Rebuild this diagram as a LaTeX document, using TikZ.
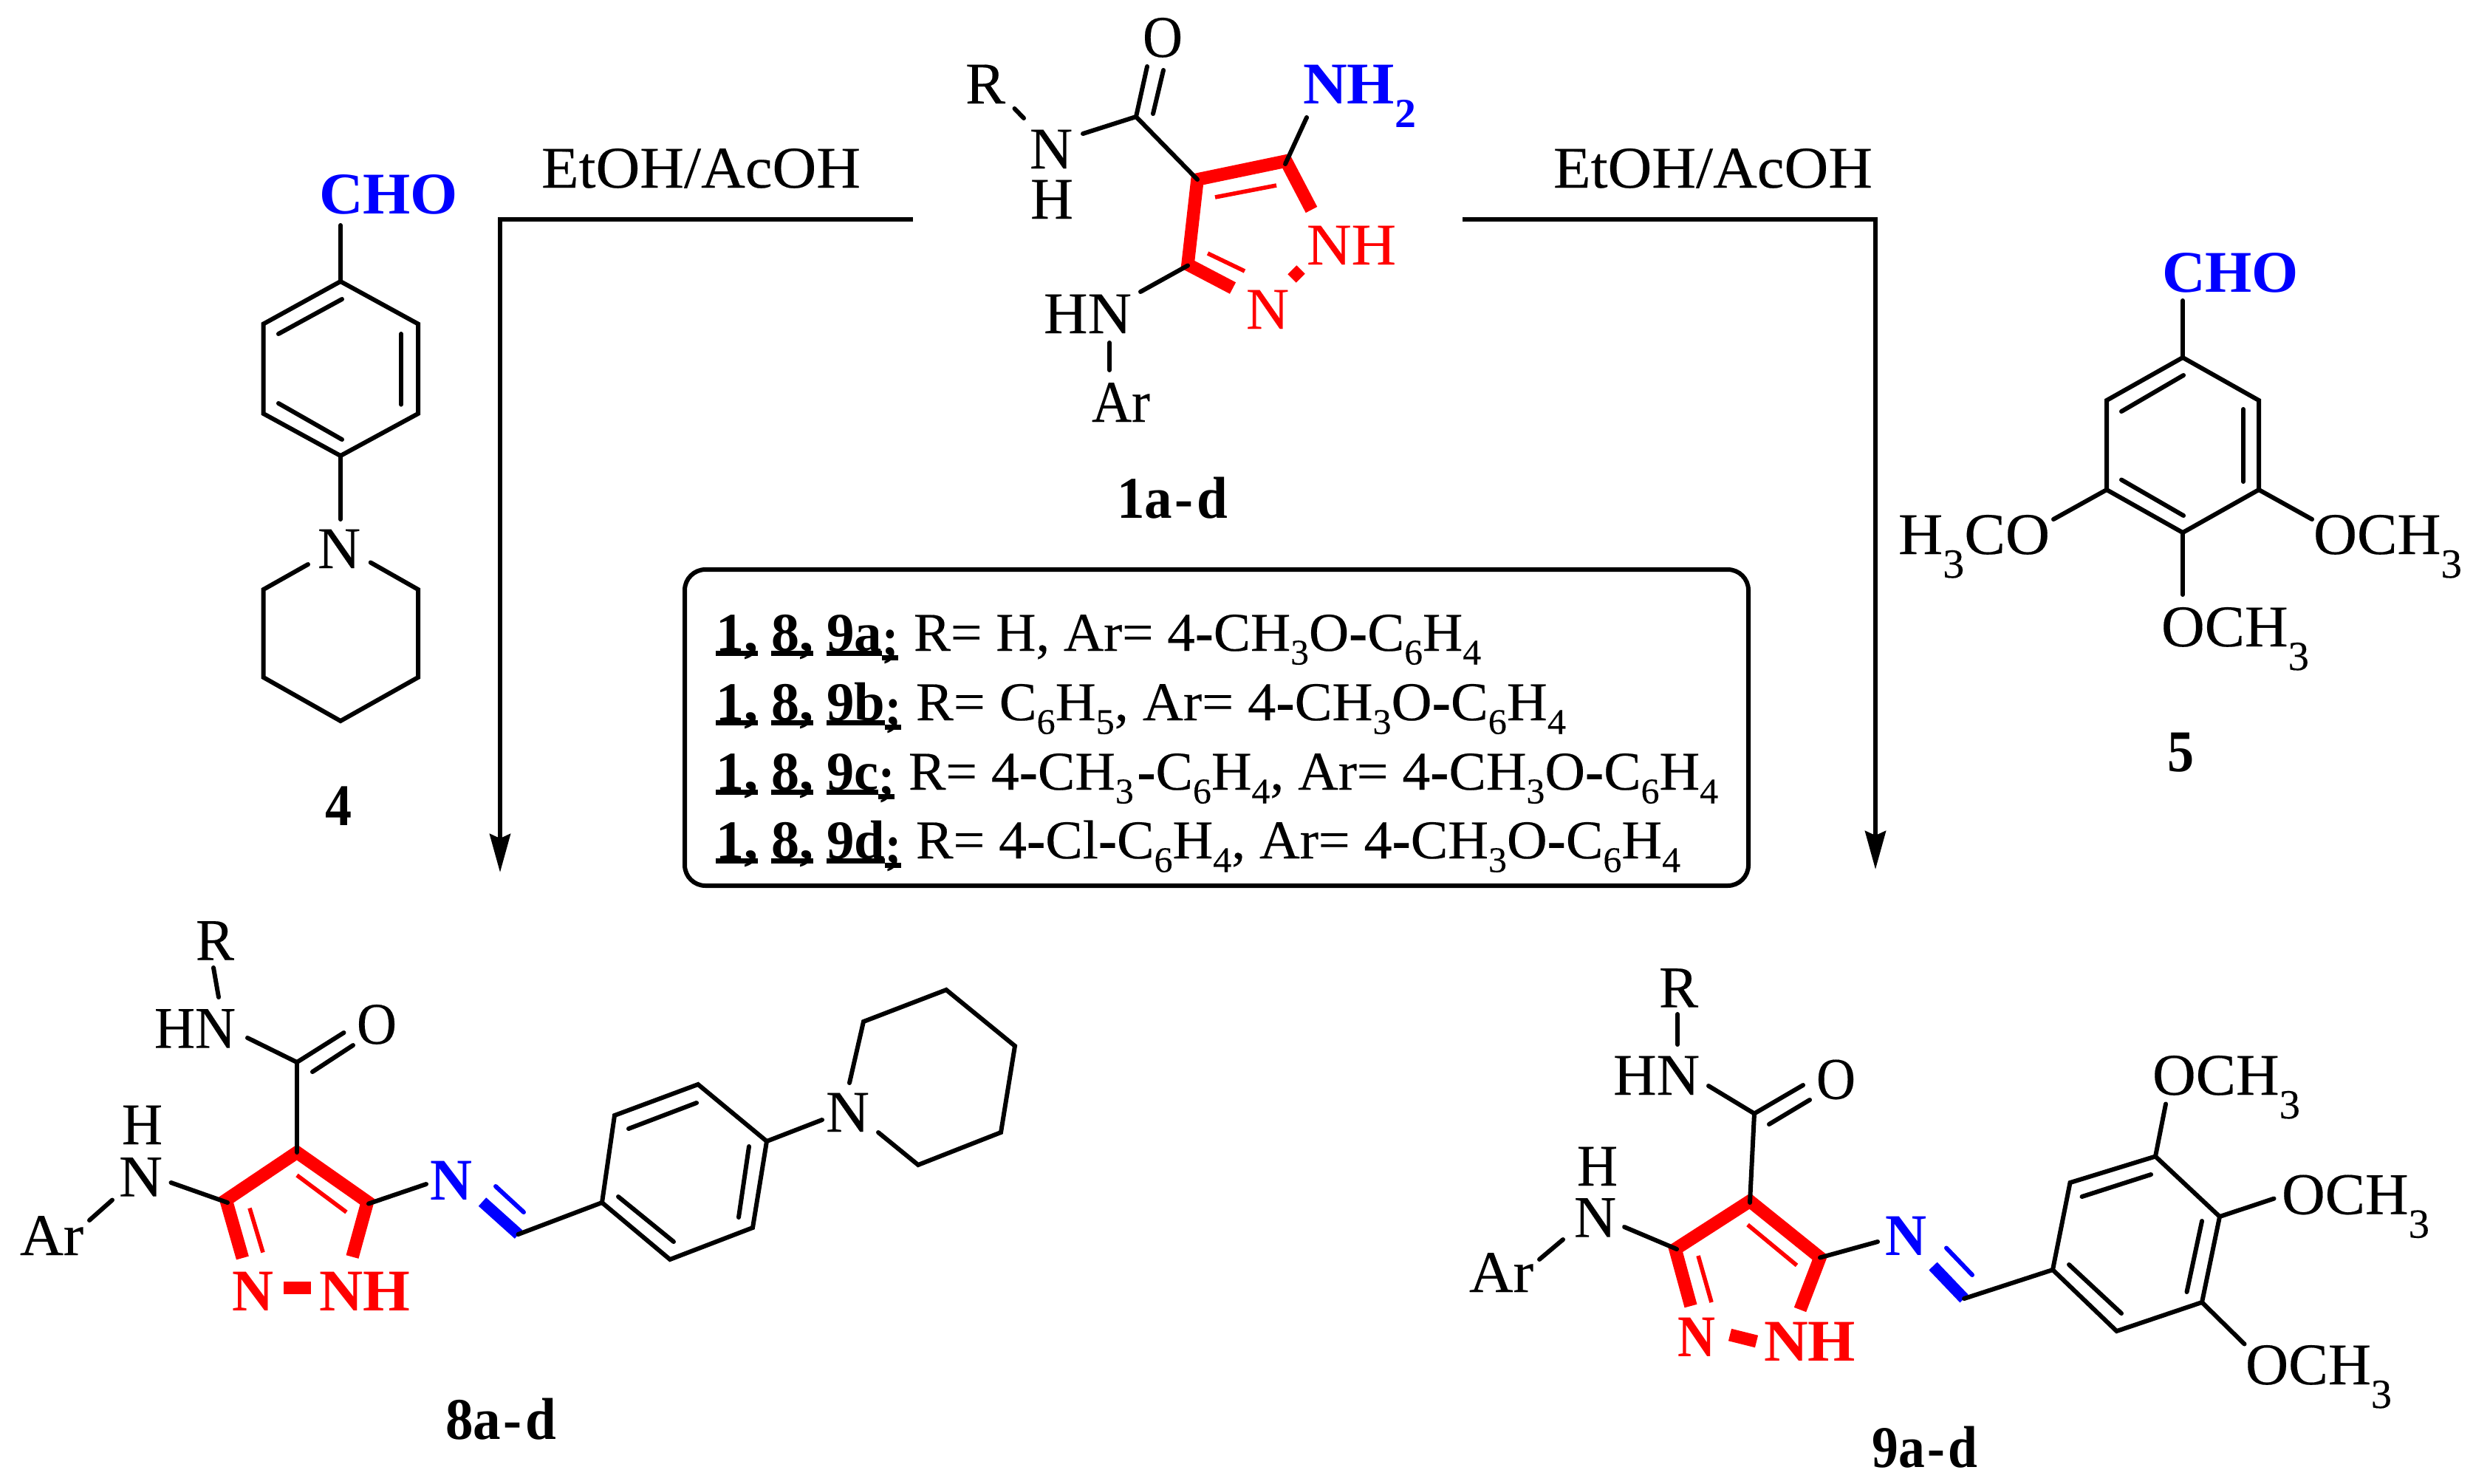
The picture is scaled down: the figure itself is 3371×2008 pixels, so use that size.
\documentclass[tikz,border=0pt]{standalone}
\usepackage{fontspec}
\usepackage{graphicx}
\setmainfont{Liberation Serif}
\newfontfamily\regf[FakeBold=0.25]{Liberation Serif}
\usetikzlibrary{arrows.meta}
\definecolor{pred}{RGB}{255,0,0}
\definecolor{pblue}{RGB}{0,0,255}
\tikzset{
  lab/.style={inner sep=0pt,outer sep=0pt,anchor=base west,font=\fontsize{40}{48}\regf},
  boxt/.style={lab,font=\fontsize{37}{44}\regf},
  bb/.style={lab,font=\fontsize{40}{48}\selectfont\bfseries},
  bbt/.style={lab,font=\fontsize{37}{44}\selectfont\bfseries},
  bond/.style={line width=3pt,line cap=round,line join=miter,black},
  redthin/.style={line width=2.8pt,pred},
  redthick/.style={line width=8.75pt,pred,line join=miter},
  bluethin/.style={line width=3pt,pblue,line cap=round},
  bluethick/.style={line width=7.75pt,pblue},
  rxn/.style={line width=3pt,black,line join=miter,-{Stealth[length=26pt,width=14pt,inset=3pt]}},
  ulb/.style={line width=3.3pt,black},
  panel/.style={line width=3pt,black,rounded corners=14pt}
}
\newcommand\lbl[5]{\node[#1] (#2) at (#3) {\resizebox{\dimexpr#4pt/2\relax}{\height}{#5}};}
\newcommand\sA[1]{\raisebox{-.4em}{\scalebox{.7}{#1}}}
\newcommand\sB[1]{\raisebox{-.25em}{\scalebox{.66}{#1}}}
\newcommand\hy{{\bfseries-}}
\newcommand\hyb{\kern.05em-\kern.06em}
\newcommand\ulab[1]{\draw[ulb] ([yshift=-1.75pt]#1.base west) -- ([yshift=-1.75pt]#1.base east);}
\begin{document}
\begin{tikzpicture}[x=0.5pt,y=-0.5pt]
\useasboundingbox (0,0) rectangle (3371,2008);

% ---- reaction arrows
\coordinate (la) at (1236,297);
\coordinate (lb) at (677,297);
\coordinate (lc) at (677,1181);
\coordinate (ra) at (1980,297);
\coordinate (rb) at (2539,297);
\coordinate (rc) at (2539,1177);
\draw[rxn] (la) -- (lb) -- (lc);
\draw[rxn] (ra) -- (rb) -- (rc);
\lbl{lab}{etL}{733,254}{432}{EtOH/AcOH}
\lbl{lab}{etR}{2103,254}{432}{EtOH/AcOH}

% ---- compound 1
\draw[redthick] (1775.5,284) -- (1741,218) -- (1621,243) -- (1608,358) -- (1669,390);
\draw[redthin] (1645,267) -- (1728,251);
\draw[redthin] (1635,343) -- (1685,367);
\draw[line width=8pt,pred] (1749,377) -- (1761,365);
\draw[bond] (1538,158) -- (1553,90);
\draw[bond] (1561,154) -- (1575,95);
\draw[bond] (1466,181) -- (1538,158) -- (1621,243);
\draw[bond] (1373.5,147) -- (1386,160);
\draw[bond] (1740,222) -- (1769,159);
\draw[bond] (1608,359.5) -- (1544,395);
\draw[bond] (1502,464) -- (1502,501);
\lbl{lab}{aO}{1547,77}{54}{O}
\lbl{lab}{aR}{1307,140}{54}{R}
\lbl{lab}{aN}{1394,228}{58}{N}
\lbl{lab}{aH}{1395,296}{58}{H}
\lbl{bb}{aNH}{1764,140}{153}{\textcolor{pblue}{NH\sA{2}}}
\lbl{lab}{aNHr}{1769,358}{121}{\textcolor{pred}{NH}}
\lbl{lab}{aNr}{1687,445}{58}{\textcolor{pred}{N}}
\lbl{lab}{aHN}{1413,451}{119}{HN}
\lbl{lab}{aAr}{1478,571}{79}{Ar}
\lbl{bb}{aName}{1512,701}{150}{1a\hyb d}

% ---- compound 4
\draw[bond] (461,305) -- (461,381);
\draw[bond,line cap=butt] (461,381) -- (566,438.5) -- (566,560) -- (461,617) -- (356.7,560) -- (356.7,438.5) -- cycle;
\draw[bond] (377,452) -- (463,405);
\draw[bond] (543,452) -- (543,547.6);
\draw[bond] (377,546) -- (463,595);
\draw[bond] (461,617) -- (461,703);
\draw[bond] (417,764) -- (356.7,798) -- (356.7,917) -- (461,976) -- (566,917) -- (566,798) -- (501.7,761.5);
\lbl{bb}{dCHO}{432,289}{188}{\textcolor{pblue}{CHO}}
\lbl{lab}{dN}{430,769}{58}{N}
\lbl{bb}{dName}{440,1117}{36}{4}

% ---- compound 5
\draw[bond] (2955,407) -- (2955,484);
\draw[bond,line cap=butt] (2955,484) -- (3058,542) -- (3058,663) -- (2955,721) -- (2852,663) -- (2852,542) -- cycle;
\draw[bond] (2872,557) -- (2956,508);
\draw[bond] (3037,554) -- (3037,652);
\draw[bond] (2872,649.5) -- (2956,698);
\draw[bond] (2852,663) -- (2780,703);
\draw[bond] (3058,663) -- (3130,703);
\draw[bond] (2955,721) -- (2955,805);
\lbl{bb}{eCHO}{2927,395}{185}{\textcolor{pblue}{CHO}}
\lbl{lab}{eL}{2570,750}{205}{H\sA{3}CO}
\lbl{lab}{eR}{3132,750}{201}{OCH\sA{3}}
\lbl{lab}{eB}{2926,875}{200}{OCH\sA{3}}
\lbl{bb}{eName}{2934,1044}{36}{5}

% ---- substituent panel
\draw[panel] (927,771) rectangle (2367,1199);
\lbl{bbt}{p1a}{969,881}{57}{1,}
\lbl{bbt}{p1b}{1044,881}{57}{8,}
\lbl{bbt}{p1c}{1119,881}{75}{9a}
\lbl{bbt}{p1d}{1194,887}{22}{;}
\lbl{boxt}{p1t}{1237,881}{768}{R= H, Ar= 4\hy CH\sB{3}O\hy C\sB{6}H\sB{4}}
\lbl{bbt}{p2a}{969,975}{57}{1,}
\lbl{bbt}{p2b}{1044,975}{57}{8,}
\lbl{bbt}{p2c}{1119,975}{79}{9b}
\lbl{bbt}{p2d}{1198,981}{22}{;}
\lbl{boxt}{p2t}{1240,975}{880}{R= C\sB{6}H\sB{5}, Ar= 4\hy CH\sB{3}O\hy C\sB{6}H\sB{4}}
\lbl{bbt}{p3a}{969,1069}{57}{1,}
\lbl{bbt}{p3b}{1044,1069}{57}{8,}
\lbl{bbt}{p3c}{1119,1069}{70}{9c}
\lbl{bbt}{p3d}{1189,1075}{22}{;}
\lbl{boxt}{p3t}{1230,1069}{1096}{R= 4\hy CH\sB{3}\kern.06em\hy C\sB{6}H\sB{4}, Ar= 4\hy CH\sB{3}O\hy C\sB{6}H\sB{4}}
\lbl{bbt}{p4a}{969,1162}{57}{1,}
\lbl{bbt}{p4b}{1044,1162}{57}{8,}
\lbl{bbt}{p4c}{1119,1162}{79}{9d}
\lbl{bbt}{p4d}{1198,1168}{22}{;}
\lbl{boxt}{p4t}{1240,1162}{1035}{R= 4\hy Cl\hy C\sB{6}H\sB{4}, Ar= 4\hy CH\sB{3}O\hy C\sB{6}H\sB{4}}
\foreach \n in {p1a,p1b,p1c,p1d,p2a,p2b,p2c,p2d,p3a,p3b,p3c,p3d,p4a,p4b,p4c,p4d}{\ulab{\n}}

% ---- compound 8
\draw[redthick] (328.4,1703) -- (306,1624.5) -- (402,1560) -- (497.5,1627) -- (477,1701.5);
\draw[redthin] (402,1591) -- (469,1641);
\draw[redthin] (338,1635.5) -- (356,1695.5);
\draw[line width=8.5pt,pred] (384,1743.5) -- (421,1743.5);
\draw[bluethick] (653,1627) -- (702,1671);
\draw[bluethin] (671,1606) -- (709,1641);
\draw[bond] (289,1310) -- (296,1350);
\draw[bond] (335,1405) -- (402,1438);
\draw[bond] (402,1438) -- (465.5,1398);
\draw[bond] (423,1451) -- (478,1415);
\draw[bond] (402,1438) -- (402,1560);
\draw[bond] (152,1624.5) -- (121,1652);
\draw[bond] (231.5,1601) -- (308,1628);
\draw[bond] (499,1629.5) -- (577,1603);
\draw[bond] (701.5,1671) -- (815,1628);
\draw[bond,line cap=butt] (815,1628) -- (832,1510) -- (945,1468) -- (1038,1545) -- (1019,1662) -- (907,1705) -- cycle;
\draw[bond] (851,1528) -- (943,1493);
\draw[bond] (837,1620) -- (912,1681);
\draw[bond] (1014,1552) -- (1000,1648);
\draw[bond] (1038,1545) -- (1113,1516);
\draw[bond] (1150,1466) -- (1169,1383) -- (1281,1340) -- (1374,1416) -- (1355,1533) -- (1243,1577) -- (1189,1533);
\lbl{lab}{hR}{265,1299.5}{52}{R}
\lbl{lab}{hHN}{209,1418.6}{110}{HN}
\lbl{lab}{hO}{483,1413}{54}{O}
\lbl{lab}{hH}{165,1549}{55}{H}
\lbl{lab}{hN}{161,1619.6}{59}{N}
\lbl{lab}{hAr}{27,1699}{86}{Ar}
\lbl{bb}{hNr}{314,1774}{56}{\textcolor{pred}{N}}
\lbl{bb}{hNHr}{432,1774}{123}{\textcolor{pred}{NH}}
\lbl{bb}{hNb}{582,1624.5}{57}{\textcolor{pblue}{N}}
\lbl{lab}{hNp}{1118,1532}{59}{N}
\lbl{bb}{hName}{603,1948}{150}{8a\hyb d}

% ---- compound 9
\draw[redthick] (2289,1768) -- (2268,1691) -- (2369,1626) -- (2464,1702.5) -- (2437,1773);
\draw[redthin] (2366,1658) -- (2432.5,1713);
\draw[redthin] (2299,1700) -- (2317,1763);
\draw[line width=8.5pt,pred] (2342,1807) -- (2378,1816);
\draw[bluethick] (2617,1714) -- (2659,1758);
\draw[bluethin] (2635,1689.5) -- (2670,1726);
\draw[bond] (2271,1373) -- (2271,1414);
\draw[bond] (2313,1470) -- (2375,1507.5);
\draw[bond] (2375,1507.5) -- (2441,1469);
\draw[bond] (2395,1522) -- (2450,1489);
\draw[bond] (2375,1507.5) -- (2369,1628);
\draw[bond] (2116,1678) -- (2084,1705);
\draw[bond] (2199,1661) -- (2270,1691);
\draw[bond] (2464,1702.5) -- (2542,1681);
\draw[bond] (2659,1758) -- (2779,1719);
\draw[bond,line cap=butt] (2779,1719) -- (2802.5,1601) -- (2918,1565.5) -- (3005,1647) -- (2981,1763) -- (2865.5,1802) -- cycle;
\draw[bond] (2818.5,1620) -- (2912,1590);
\draw[bond] (2981,1653) -- (2960.5,1749);
\draw[bond] (2801,1712) -- (2872,1778);
\draw[bond] (2918,1565.5) -- (2932,1494.5);
\draw[bond] (3005,1647) -- (3078.5,1622.6);
\draw[bond] (2981,1763) -- (3038.5,1819.5);
\lbl{lab}{iR}{2246,1363.6}{53}{R}
\lbl{lab}{iHN}{2184,1482}{117}{HN}
\lbl{lab}{iO}{2459,1487.5}{53}{O}
\lbl{lab}{iH}{2135,1605}{55}{H}
\lbl{lab}{iN}{2131,1674.6}{57}{N}
\lbl{lab}{iAr}{1989,1749}{87}{Ar}
\lbl{bb}{iNr}{2271,1836}{51}{\textcolor{pred}{N}}
\lbl{bb}{iNHr}{2388,1842.7}{124}{\textcolor{pred}{NH}}
\lbl{bb}{iNb}{2552,1699}{56}{\textcolor{pblue}{N}}
\lbl{lab}{iO1}{2914,1482}{200}{OCH\sA{3}}
\lbl{lab}{iO2}{3089,1643.5}{200}{OCH\sA{3}}
\lbl{lab}{iO3}{3040,1874}{198}{OCH\sA{3}}
\lbl{bb}{iName}{2534.6,1986.6}{143}{9a\hyb d}
\end{tikzpicture}
\end{document}
